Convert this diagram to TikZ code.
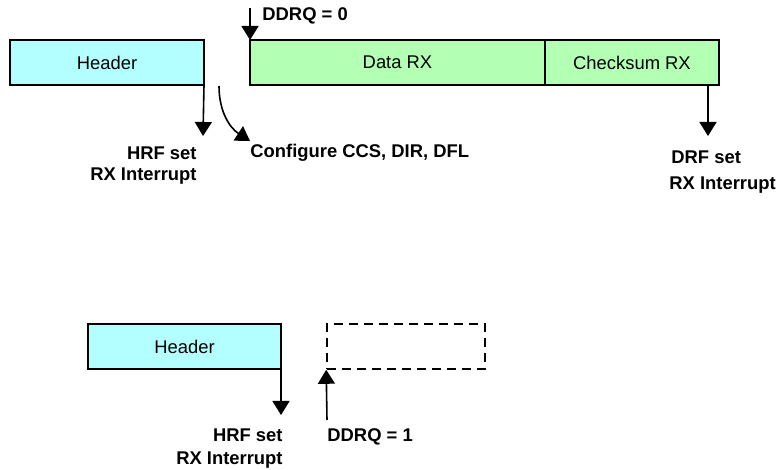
\documentclass[tikz,border=0pt]{standalone}
\usepackage{fontspec}
\setmainfont{Liberation Sans}
\usetikzlibrary{positioning, arrows.meta}

\definecolor{hdrcyan}{RGB}{179,255,255}
\definecolor{datagreen}{RGB}{179,255,179}

\begin{document}
\begin{tikzpicture}[x=0.5pt, y=-0.5pt,
    font=\fontsize{9.2}{11}\selectfont,
    field/.style={draw, line width=0.8pt, inner sep=0pt, outer sep=0pt, minimum height=22.5pt},
    lbl/.style={font=\fontsize{9.2}{11}\selectfont\bfseries, inner sep=0pt},
    sig/.style={line width=0.8pt, -{Triangle[width=8.5pt,length=7pt]}}]
        \useasboundingbox (0,0) rectangle (778,470);
        % first frame: header, data and checksum
        \node[field, fill=hdrcyan, minimum width=97pt] (hdr) at (107,62.5) {Header};
        \node[field, fill=datagreen, minimum width=147.5pt] (data) at (397.5,62.5) {Data RX};
        \node[field, fill=datagreen, minimum width=87pt] (chk) at (632,62.5) {Checksum RX};
        \node[lbl, anchor=west] (ddrq0) at (262,16) {DDRQ = 0};
        \coordinate (ddrq0top) at (250,8);
        \draw[sig] (ddrq0top) -- (data.north west);
        \coordinate (hdrend) at (203,136);
        \draw[sig] (hdr.south east) -- (hdrend);
        \node[lbl, anchor=east] (hrf) at (197,153) {HRF set};
        \node[lbl, anchor=east] (hrfirq) at (197,176) {RX Interrupt};
        \coordinate (cfgstart) at (219,86);
        \node[lbl, anchor=west] (cfg) at (250,153) {Configure CCS, DIR, DFL};
        \coordinate (cfgend) at (250,141);
        \draw[sig] (cfgstart) .. controls (219,112) and (230,128) .. (cfgend);
        \coordinate (chkstart) at (708,85);
        \coordinate (chkend) at (708,136);
        \draw[sig] (chkstart) -- (chkend);
        \node[lbl, anchor=west] (drf) at (671,157) {DRF set};
        \node[lbl, anchor=west] (drfirq) at (669,185) {RX Interrupt};
        % second frame: header only, data not requested
        \node[field, fill=hdrcyan, minimum width=96.5pt] (hdrB) at (184.5,346.5) {Header};
        \node[draw, line width=0.8pt, dash pattern=on 4.5pt off 3pt, inner sep=0pt,
              minimum width=79pt, minimum height=22.5pt] (empty) at (406,346.5) {};
        \coordinate (hdrBend) at (281,415);
        \draw[sig] (hdrB.south east) -- (hdrBend);
        \node[lbl, anchor=east] (hrfB) at (283,435) {HRF set};
        \node[lbl, anchor=east] (hrfBirq) at (283,460) {RX Interrupt};
        \coordinate (ddrq1start) at (327,420);
        \draw[sig] (ddrq1start) -- (empty.south west);
        \node[lbl, anchor=west] (ddrq1) at (327,437) {DDRQ = 1};
      \end{tikzpicture}
\end{document}
